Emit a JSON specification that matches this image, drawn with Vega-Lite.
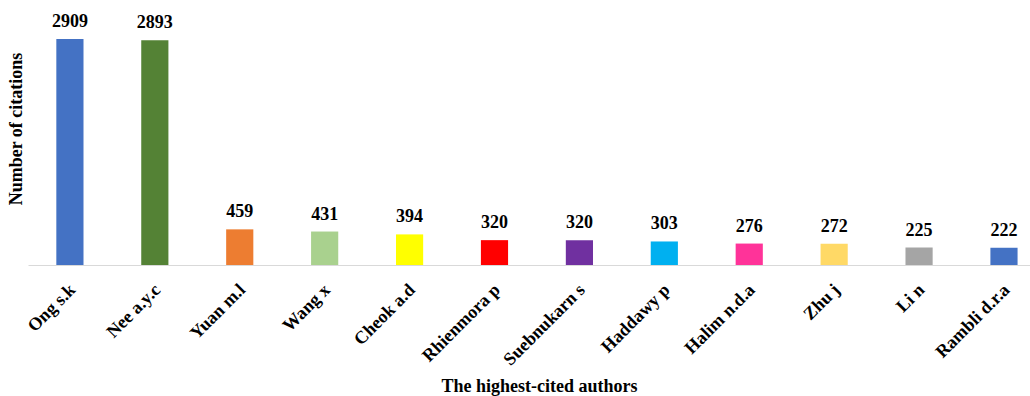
{
  "$schema": "https://vega.github.io/schema/vega-lite/v6.json",
  "autosize": "none",
  "width": 1002,
  "height": 233,
  "padding": {"left": 28, "top": 32, "right": 0, "bottom": 131},
  "background": "white",
  "config": {
    "view": {"stroke": null},
    "font": "Liberation Serif",
    "axis": {"labelFont": "Liberation Serif", "titleFont": "Liberation Serif"}
  },
  "data": {
    "values": [
      {"author": "Ong s.k", "citations": 2909, "color": "#4472C4"},
      {"author": "Nee a.y.c", "citations": 2893, "color": "#548235"},
      {"author": "Yuan m.l", "citations": 459, "color": "#ED7D31"},
      {"author": "Wang x", "citations": 431, "color": "#A9D18E"},
      {"author": "Cheok a.d", "citations": 394, "color": "#FFFF00"},
      {"author": "Rhienmora p", "citations": 320, "color": "#FF0000"},
      {"author": "Suebnukarn s", "citations": 320, "color": "#7030A0"},
      {"author": "Haddawy p", "citations": 303, "color": "#00B0F0"},
      {"author": "Halim n.d.a", "citations": 276, "color": "#FF3399"},
      {"author": "Zhu j", "citations": 272, "color": "#FFD966"},
      {"author": "Li n", "citations": 225, "color": "#A5A5A5"},
      {"author": "Rambli d.r.a", "citations": 222, "color": "#4472C4"}
    ]
  },
  "encoding": {
    "x": {
      "field": "author",
      "type": "nominal",
      "sort": null,
      "scale": {"paddingInner": 0.68, "paddingOuter": 0.24, "align": 0.695},
      "axis": {
        "title": "The highest-cited authors",
        "titleFontSize": 18,
        "titleFontWeight": "bold",
        "titleColor": "#000000",
        "titleBaseline": "alphabetic",
        "titleAlign": "center",
        "titleX": 511,
        "titleY": 126,
        "labelAngle": -45,
        "labelAlign": "right",
        "labelBaseline": "middle",
        "labelFontSize": 18,
        "labelFontWeight": "bold",
        "labelColor": "#000000",
        "labelPadding": 22,
        "labelOffset": 3,
        "ticks": false,
        "domainColor": "#D9D9D9",
        "domainWidth": 1
      }
    },
    "y": {
      "field": "citations",
      "type": "quantitative",
      "scale": {"domain": [0, 3000], "nice": false},
      "axis": {
        "title": "Number of citations",
        "titleFontSize": 18,
        "titleFontWeight": "bold",
        "titleColor": "#000000",
        "titleBaseline": "middle",
        "titleX": -12,
        "titleY": 96.5,
        "titleAngle": -90,
        "titleAlign": "center",
        "labels": false,
        "ticks": false,
        "domain": false,
        "grid": false
      }
    }
  },
  "layer": [
    {
      "mark": {"type": "bar"},
      "encoding": {"color": {"field": "color", "type": "nominal", "scale": null}}
    },
    {
      "mark": {"type": "text", "baseline": "alphabetic", "dy": -12, "fontSize": 18, "fontWeight": "bold", "color": "#000000"},
      "encoding": {"text": {"field": "citations", "type": "quantitative"}}
    }
  ]
}
